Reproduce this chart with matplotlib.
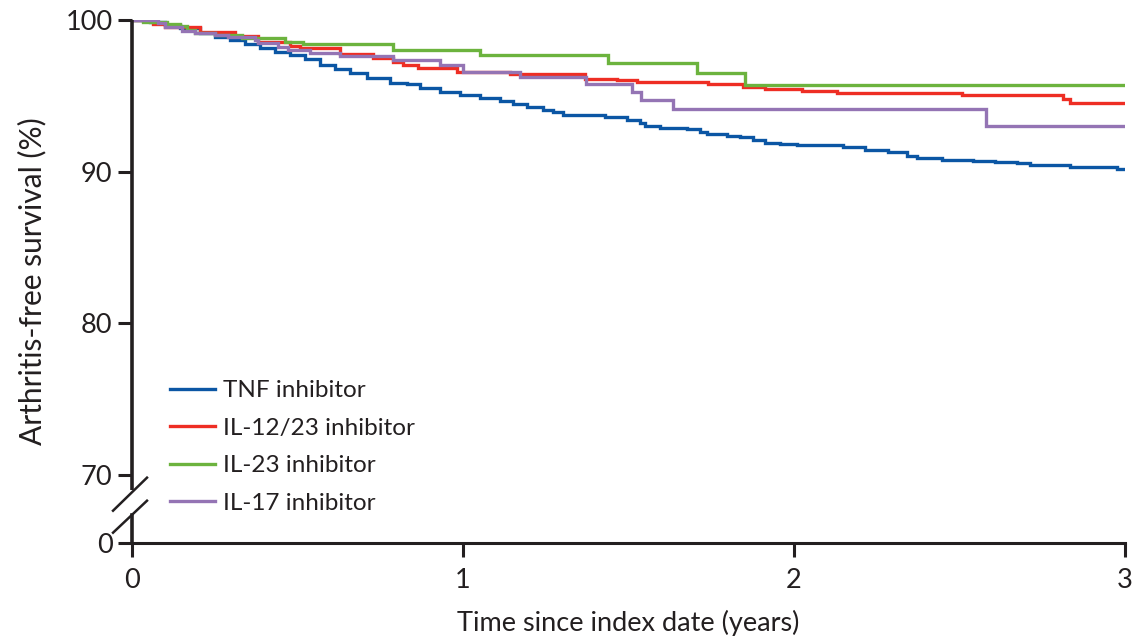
import matplotlib
matplotlib.use("Agg")
import matplotlib.pyplot as plt

plt.rcParams['font.family'] = ['Lato', 'DejaVu Sans']

# ---- data (years, arthritis-free survival %) ----
tnf_t = [0, 0.054, 0.100, 0.145, 0.205, 0.251, 0.296, 0.341, 0.387, 0.432, 0.477, 0.523,
         0.568, 0.613, 0.659, 0.710, 0.779, 0.831, 0.870, 0.931, 0.991, 1.051, 1.112,
         1.151, 1.193, 1.242, 1.272, 1.302, 1.429, 1.495, 1.535, 1.550, 1.595, 1.677,
         1.716, 1.737, 1.798, 1.837, 1.876, 1.912, 1.958, 2.009, 2.148, 2.215, 2.284,
         2.341, 2.372, 2.447, 2.541, 2.607, 2.674, 2.713, 2.834, 2.976, 3.0]
tnf_s = [100, 99.84, 99.67, 99.44, 99.14, 98.88, 98.65, 98.42, 98.15, 97.89, 97.66, 97.40,
         97.03, 96.77, 96.51, 96.18, 95.85, 95.75, 95.52, 95.25, 95.06, 94.86, 94.66,
         94.46, 94.26, 94.07, 93.90, 93.74, 93.61, 93.41, 93.19, 93.01, 92.86, 92.79,
         92.64, 92.49, 92.35, 92.27, 92.09, 91.91, 91.83, 91.74, 91.61, 91.43, 91.32,
         91.03, 90.88, 90.77, 90.72, 90.64, 90.55, 90.44, 90.29, 90.18, 90.18]

il1223_t = [0, 0.063, 0.100, 0.205, 0.311, 0.381, 0.477, 0.508, 0.628, 0.728, 0.789, 0.819,
            0.864, 0.982, 1.142, 1.369, 1.465, 1.526, 1.740, 1.846, 1.912, 2.024, 2.130,
            2.508, 2.813, 2.834, 3.0]
il1223_s = [100, 99.74, 99.54, 99.21, 98.95, 98.55, 98.29, 98.13, 97.76, 97.48, 97.25, 97.03,
            96.82, 96.59, 96.41, 96.11, 96.01, 95.89, 95.76, 95.58, 95.45, 95.32, 95.17,
            95.02, 94.81, 94.53, 94.53]

il23_t = [0, 0.033, 0.106, 0.145, 0.166, 0.190, 0.251, 0.332, 0.462, 0.517, 0.789, 1.051,
          1.438, 1.707, 1.852, 3.0]
il23_s = [100, 99.85, 99.72, 99.60, 99.31, 99.12, 99.01, 98.79, 98.55, 98.40, 98.02, 97.69,
          97.17, 96.51, 95.73, 95.73]

il17_t = [0, 0.079, 0.100, 0.151, 0.190, 0.251, 0.290, 0.372, 0.381, 0.441, 0.471, 0.538,
          0.628, 0.789, 0.931, 1.000, 1.172, 1.372, 1.511, 1.538, 1.634, 2.580, 3.0]
il17_s = [100, 99.78, 99.52, 99.29, 99.16, 99.01, 98.90, 98.68, 98.46, 98.24, 98.02, 97.80,
          97.63, 97.33, 97.03, 96.59, 96.24, 95.78, 95.25, 94.69, 94.13, 93.01, 93.01]

series_labels = ["TNF inhibitor", "IL-12/23 inhibitor", "IL-23 inhibitor", "IL-17 inhibitor"]
series_colors = ["#0b56a4", "#ee2e24", "#6cb33e", "#9474b4"]

x_ticks = [0, 1, 2, 3]
y_ticks = [70, 80, 90, 100]
y_zero_pos = 65.5   # where the broken axis shows "0"

ink = "#231f20"

fig = plt.figure(figsize=(11.35, 6.36), dpi=100)
ax = fig.add_axes([132/1135, 1-543/636, 993/1135, 523/636])

for t, s, lab, col in zip([tnf_t, il1223_t, il23_t, il17_t],
                          [tnf_s, il1223_s, il23_s, il17_s],
                          series_labels, series_colors):
    ax.step(t, s, where='post', color=col, lw=2.4, label=lab, solid_joinstyle='miter')

ax.set_xlim(0, 3)
ax.set_ylim(y_zero_pos, 100)

ax.set_xticks(x_ticks)
ax.set_xticklabels([str(v) for v in x_ticks])
ax.set_yticks([y_zero_pos] + y_ticks)
ax.set_yticklabels(["0"] + [str(v) for v in y_ticks])

for sp in ['top', 'right', 'left']:
    ax.spines[sp].set_visible(False)
ax.spines['bottom'].set_linewidth(2.2)
ax.spines['bottom'].set_color(ink)

ax.tick_params(axis='both', direction='out', length=10, width=2.2, color=ink,
               labelcolor=ink, labelsize=19.5)
ax.tick_params(axis='x', pad=8)
ax.tick_params(axis='y', pad=4)

# broken left spine
ytr = ax.get_yaxis_transform()
ax.plot([0, 0], [69.02, 100], transform=ytr, color=ink, lw=2.6, clip_on=False,
        solid_capstyle='butt')
ax.plot([0, 0], [y_zero_pos, 67.37], transform=ytr, color=ink, lw=2.6, clip_on=False,
        solid_capstyle='projecting')
ax.plot([-0.0191, 0.0151], [67.63, 69.81], transform=ytr, color=ink, lw=1.8, clip_on=False)
ax.plot([-0.0191, 0.0151], [66.18, 68.29], transform=ytr, color=ink, lw=1.8, clip_on=False)

ax.set_ylabel("Arthritis-free survival (%)", fontsize=21.5, color=ink, labelpad=14)
ax.set_xlabel("Time since index date (years)", fontsize=19.5, color=ink, labelpad=12)

leg = ax.legend(loc='upper left', bbox_to_anchor=(0.0383, 0.311), frameon=False,
                fontsize=17.5, handlelength=1.85, handletextpad=0.33, labelspacing=0.68,
                borderpad=0, borderaxespad=0)
for txt in leg.get_texts():
    txt.set_color(ink)

fig.savefig("out.png", dpi=100)
